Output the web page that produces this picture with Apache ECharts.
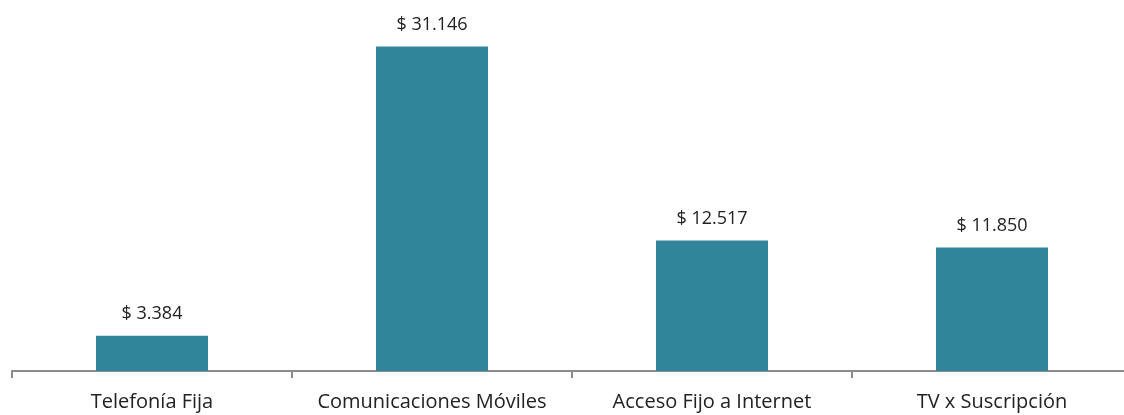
<!DOCTYPE html>
<html>
<head>
<meta charset="utf-8">
<script src="https://cdn.jsdelivr.net/npm/echarts@6/dist/echarts.min.js"></script>
<style>
  html, body { margin: 0; padding: 0; background: #fff; }
  #main { width: 1124px; height: 415px; }
</style>
</head>
<body>
<div id="main"></div>
<script>
// categorías y valores (millones)
var categorias = ['Telefonía Fija', 'Comunicaciones Móviles', 'Acceso Fijo a Internet', 'TV x Suscripción'];
var valores = [3384, 31146, 12517, 11850];

// formato con punto como separador de miles
function fmt(v) {
    return '$ ' + String(v).replace(/\B(?=(\d{3})+(?!\d))/g, '.');
}

var chart = echarts.init(document.getElementById('main'));
var option = {
    animation: false,
    grid: { left: 12, width: 1120, top: 0, bottom: 44, outerBoundsMode: 'none' },
    xAxis: {
        type: 'category',
        data: categorias,
        axisLine: { lineStyle: { color: '#8c8c8c', width: 2 } },
        axisTick: { show: true, length: 7, lineStyle: { color: '#8c8c8c', width: 2 } },
        axisLabel: {
            interval: 0,
            hideOverlap: false,
            color: '#222',
            fontSize: 20,
            fontFamily: 'Open Sans',
            margin: 21
        }
    },
    yAxis: {
        type: 'value',
        min: 0,
        max: 35600,
        show: false,
        splitLine: { show: false }
    },
    series: [{
        type: 'bar',
        data: valores,
        barWidth: '40%',
        itemStyle: { color: '#31859b' },
        label: {
            show: true,
            position: 'top',
            distance: 13,
            color: '#222',
            fontSize: 18,
            fontFamily: 'Open Sans',
            formatter: function (p) { return fmt(p.value); }
        }
    }]
};
chart.setOption(option);
</script>
</body>
</html>
